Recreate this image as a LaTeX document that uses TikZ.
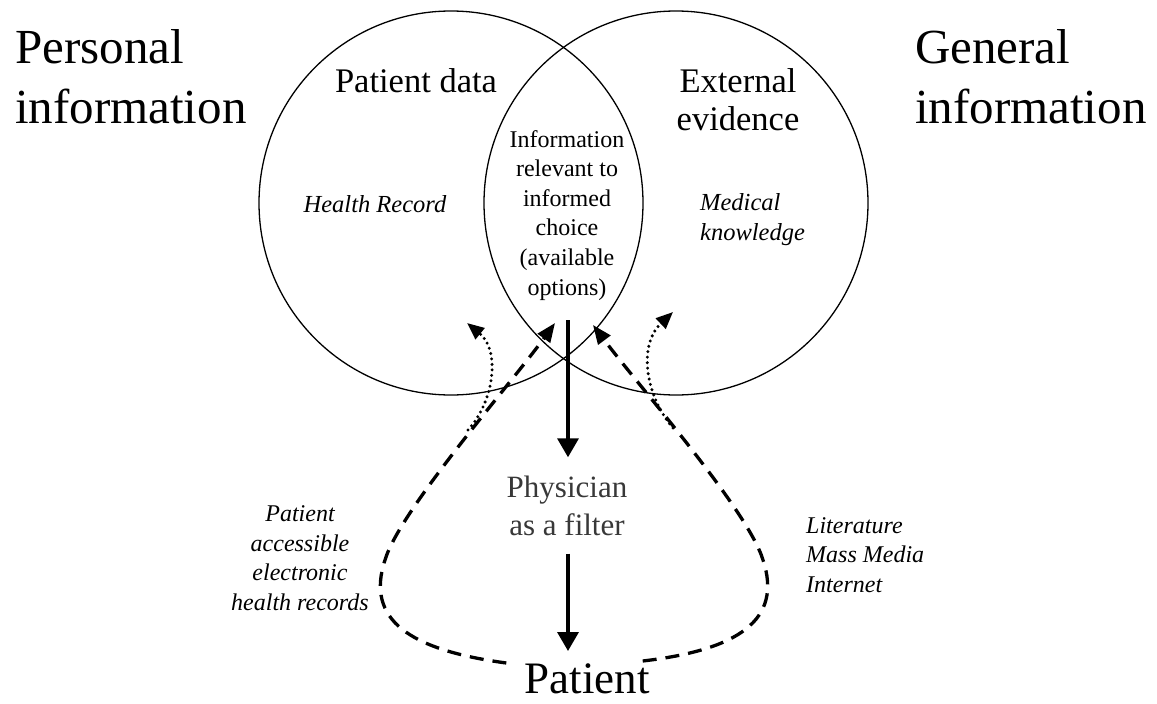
\documentclass[tikz,border=0pt]{standalone}
\usepackage{fontspec}
\setmainfont{Liberation Serif}
\usetikzlibrary{arrows.meta}
\definecolor{filtergray}{gray}{0.22}

\begin{document}
\begin{tikzpicture}[x=1pt,y=-1pt,
    headtext/.style={font={\fontsize{49}{60}\selectfont},align=left,anchor=base west,inner sep=0pt},
    settext/.style={font={\fontsize{34.5}{38}\selectfont},align=center,anchor=base,inner sep=0pt},
    notetext/.style={font={\fontsize{24.5}{30}\selectfont\itshape},anchor=base,inner sep=0pt},
    sourcetext/.style={font={\fontsize{24}{29.5}\selectfont\itshape},anchor=base,inner sep=0pt},
    setcircle/.style={draw,circle,minimum size=384pt,inner sep=0pt,line width=1.3pt},
    flow/.style={line width=3.5pt,-{Triangle[length=19pt,width=21pt]}},
    access/.style={line width=3.3pt,dash pattern=on 14pt off 9pt,-{Triangle[length=19pt,width=15pt]}},
    reach/.style={line width=3.3pt,line cap=round,dash pattern=on 0pt off 5.5pt,-{Triangle[length=17pt,width=14pt]}}]
  \useasboundingbox (0,0) rectangle (1157,704);

  % the two sets
  \node[setcircle] (pdata) at (451,203) {};
  \node[setcircle] (evid) at (676,203) {};

  \node[headtext] (personal) at (15,123) {Personal\\information};
  \node[headtext] (general) at (915,123) {General\\information};

  \node[settext] (pdatalabel) at (416,92) {Patient data};
  \node[settext] (evidlabel) at (738,130) {External\\evidence};
  \node[notetext] (record) at (375,212) {Health Record};
  \node[notetext,align=left,anchor=base west] (knowledge) at (700,240) {Medical\\knowledge};
  \node[font={\fontsize{24}{29.6}\selectfont},align=center,anchor=base,inner sep=0pt] (choice) at (567,295)
    {Information\\relevant to\\informed\\choice\\(available\\options)};

  % filter and patient
  \node[font={\fontsize{31}{38}\selectfont},text=filtergray,align=center,anchor=base,inner xsep=0pt,inner ysep=18pt]
    (filter) at (567,535) {Physician\\as a filter};
  \node[font={\fontsize{45}{50}\selectfont},anchor=base,inner xsep=18pt,inner ysep=2pt] (patient) at (587,693) {Patient};

  \node[sourcetext,align=center] (ehr) at (300,610) {Patient\\accessible\\electronic\\health records};
  \node[sourcetext,align=left,anchor=base west] (media) at (806,592) {Literature\\Mass Media\\Internet};

  \coordinate (lensbot) at (568,320);
  \coordinate (ltip) at (555,323);
  \coordinate (rtip) at (593,325);
  \coordinate (ldot) at (468,430);
  \coordinate (ldottip) at (467,323);
  \coordinate (rdot) at (673,428);
  \coordinate (rdottip) at (673,312);

  \draw[flow] (lensbot) -- (lensbot |- filter.north);
  \draw[flow,shorten >=10pt] (lensbot |- filter.south) -- (lensbot |- patient.north);

  \draw[access] ([yshift=-2pt]patient.north west) .. controls (410,650) and (365,620) .. (385,560)
    .. controls (400,510) and (510,385) .. (ltip);
  \draw[access] ([xshift=-25pt]patient.north east) .. controls (738,650) and (783,620) .. (763,560)
    .. controls (748,510) and (638,385) .. (rtip);

  \draw[reach] (ldot) .. controls (495,400) and (500,350) .. (ldottip);
  \draw[reach] (rdot) .. controls (645,395) and (638,345) .. (rdottip);
\end{tikzpicture}
\end{document}
